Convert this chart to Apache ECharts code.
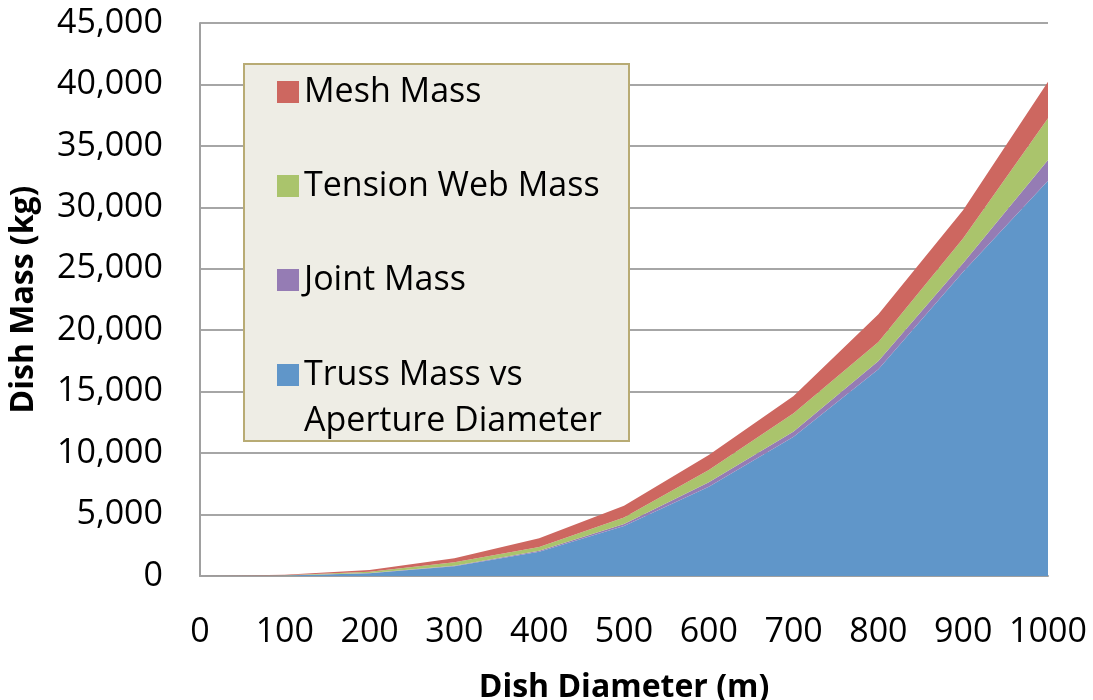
<!DOCTYPE html>
<html>
<head>
<meta charset="utf-8">
<script src="https://cdn.jsdelivr.net/npm/echarts@6/dist/echarts.min.js"></script>
<style>
  html, body { margin: 0; padding: 0; background: #fff; }
  #chart { width: 1093px; height: 700px; }
</style>
</head>
<body>
<div id="chart"></div>
<script>
// dish diameter (m) and mass components (kg)
const diameters = ['0', '100', '200', '300', '400', '500', '600', '700', '800', '900', '1000'];
const trussMass = [0, 40, 220, 800, 1980, 4070, 7270, 11340, 16820, 24760, 32170];
const jointMass = [0, 5, 15, 35, 70, 160, 355, 410, 680, 700, 1680];
const webMass   = [0, 20, 110, 280, 310, 540, 1000, 1490, 1545, 2030, 3390];
const meshMass  = [0, 35, 140, 325, 710, 950, 1220, 1410, 2250, 2300, 2985];

const FONT = '"Open Sans", "Noto Sans", sans-serif';
const TRUSS = 'Truss Mass vs Aperture Diameter';

const chart = echarts.init(document.getElementById('chart'));

function areaSeries(name, values, color) {
  return {
    name: name,
    type: 'line',
    stack: 'dish',
    symbol: 'none',
    lineStyle: { width: 0 },
    areaStyle: { color: color, opacity: 1 },
    itemStyle: { color: color },
    data: values
  };
}

chart.setOption({
  animation: false,
  textStyle: { fontFamily: FONT },
  grid: { left: 200, right: 45, top: 23, bottom: 124, outerBoundsMode: 'none', containLabel: false },
  xAxis: {
    type: 'category', data: diameters, boundaryGap: false,
    name: 'Dish Diameter (m)', nameLocation: 'middle', nameGap: 96,
    nameTextStyle: { fontSize: 32, fontWeight: 'bold', color: '#000', fontFamily: FONT },
    axisLine: { show: true, lineStyle: { color: '#a0a0a0', width: 2 } },
    axisTick: { show: false },
    splitLine: { show: false },
    axisLabel: { fontSize: 34, color: '#000', margin: 39, interval: 0, fontFamily: FONT }
  },
  yAxis: {
    type: 'value', min: 0, max: 45000, interval: 5000,
    name: 'Dish Mass (kg)', nameLocation: 'middle', nameGap: 160,
    nameTextStyle: { fontSize: 32, fontWeight: 'bold', color: '#000', fontFamily: FONT },
    axisLine: { show: true, lineStyle: { color: '#a0a0a0', width: 2 } },
    axisTick: { show: false },
    splitLine: { show: true, lineStyle: { color: '#a6a6a6', width: 2 } },
    axisLabel: {
      fontSize: 34, color: '#000', margin: 37, fontFamily: FONT,
      formatter: v => v.toLocaleString('en-US')
    }
  },
  graphic: [{
    type: 'rect', left: 243, top: 63, z: 5,
    shape: { width: 385, height: 377 },
    style: { fill: '#eeede5', stroke: '#b8ab74', lineWidth: 2 }
  }],
  legend: [{
    orient: 'vertical', left: 272, top: 64, z: 10,
    itemWidth: 22, itemHeight: 22, itemGap: 48,
    icon: 'rect',
    textStyle: { fontSize: 34, color: '#000', lineHeight: 40, fontFamily: FONT, padding: [6, 0, 0, 0] },
    data: ['Mesh Mass', 'Tension Web Mass', 'Joint Mass']
  }, {
    // leading blank line keeps the marker level with the first text line
    orient: 'vertical', left: 272, top: 301, z: 10,
    itemWidth: 22, itemHeight: 22,
    icon: 'rect',
    formatter: () => '\nTruss Mass vs\nAperture Diameter',
    textStyle: { fontSize: 34, color: '#000', lineHeight: 46, fontFamily: FONT },
    data: [TRUSS]
  }],
  series: [
    areaSeries(TRUSS, trussMass, '#6096c9'),
    areaSeries('Joint Mass', jointMass, '#957cb4'),
    areaSeries('Tension Web Mass', webMass, '#aac46c'),
    areaSeries('Mesh Mass', meshMass, '#cd6760')
  ]
});
</script>
</body>
</html>
